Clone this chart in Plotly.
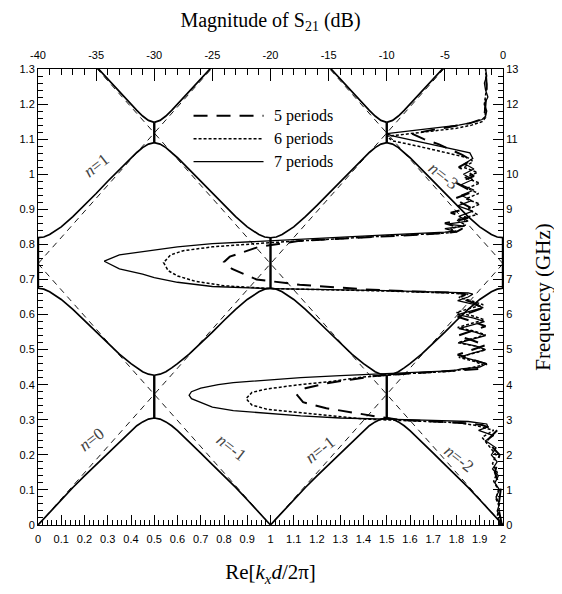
import numpy as np
import plotly.graph_objects as go

# ---------------- band-structure data (reduced half zone) -------------
band_k = [0, 0.025, 0.05, 0.1, 0.15, 0.2, 0.25, 0.3, 0.35, 0.4, 0.425, 0.45, 0.475, 0.5]
band1_f = [0, 0.018, 0.036, 0.072, 0.107, 0.140, 0.172, 0.205, 0.238, 0.269, 0.283, 0.294, 0.302, 0.305]
band2_f = [0.675, 0.6725, 0.665, 0.643, 0.615, 0.583, 0.550, 0.518, 0.487, 0.460, 0.448, 0.437, 0.430, 0.427]
band3_f = [0.819, 0.821, 0.828, 0.850, 0.879, 0.911, 0.945, 0.980, 1.014, 1.047, 1.062, 1.076, 1.086, 1.090]
band4_k = [0.25, 0.3, 0.35, 0.4, 0.425, 0.45, 0.475, 0.5]
band4_f = [1.3075, 1.271, 1.2345, 1.199, 1.182, 1.166, 1.1535, 1.148]

# band gaps (Re[k] constant inside the gap)
gap_x = [0, 0.5, 1, 1.5, 2, 0.5, 1.5]
gap_lo = [0.675, 0.305, 0.675, 0.305, 0.675, 1.090, 1.090]
gap_hi = [0.819, 0.427, 0.819, 0.427, 0.819, 1.148, 1.148]

# light lines  f = slope*|x - m|
light_slope = 0.745
light_m = [-1, 0, 1, 2, 3]

# ---------------- S21 data (frequency GHz, magnitude dB) ----------------
s21_f7 = [0.00, 0.20, 0.40, 0.60, 0.80, 1.00, 1.20, 1.40, 1.60, 1.80, 2.00, 2.20, 2.40, 2.55, 2.70, 2.80, 2.88,
          2.95, 2.98, 3.01, 3.05, 3.11, 3.18, 3.26, 3.36, 3.49, 3.60, 3.70, 3.80, 3.90, 4.00, 4.06, 4.13, 4.20,
          4.26, 4.31, 4.36, 4.40, 4.45, 4.50, 4.60, 4.70, 4.80, 4.90, 5.00, 5.10, 5.20, 5.30, 5.40, 5.50, 5.60,
          5.70, 5.80, 5.90, 6.00, 6.10, 6.20, 6.30, 6.40, 6.50, 6.58, 6.62, 6.64, 6.68, 6.71, 6.74, 6.80, 6.92,
          7.05, 7.15, 7.30, 7.52, 7.70, 7.80, 7.93, 8.02, 8.11, 8.19, 8.27, 8.35, 8.38, 8.45, 8.52, 8.58, 8.66,
          8.80, 8.95, 9.10, 9.25, 9.40, 9.55, 9.70, 9.85, 10.00, 10.15, 10.30, 10.45, 10.61, 10.74, 10.87, 11.00,
          11.10, 11.16, 11.24, 11.32, 11.40, 11.48, 11.56, 11.65, 11.80, 12.00, 12.20, 12.40, 12.60, 12.80, 13.00]
s21_db7 = [-0.3, -0.2, -0.5, -0.3, -0.6, -0.3, -0.7, -0.4, -0.9, -0.5, -1.0, -0.6, -1.5, -0.8, -2.1, -1.3, -1.4,
           -3.0, -6.0, -10.0, -14.0, -17.4, -20.5, -23.2, -25.0, -26.0, -26.8, -27.0, -26.8, -26.0, -24.5, -23.2,
           -20.5, -17.4, -14.0, -10.0, -6.0, -4.2, -3.6, -2.0, -1.4, -2.4, -3.6, -2.6, -1.5, -2.3, -3.7, -2.6,
           -1.5, -2.4, -3.8, -2.7, -1.6, -2.5, -3.9, -2.8, -1.7, -2.6, -3.9, -3.0, -2.6, -3.0, -5.0, -10.0, -15.0,
           -20.0, -25.0, -28.0, -30.0, -31.0, -33.0, -34.3, -33.0, -31.0, -28.0, -25.0, -20.0, -15.0, -10.0,
           -5.0, -4.2, -5.0, -3.3, -4.8, -3.0, -3.8, -2.6, -3.9, -2.7, -3.6, -2.5, -3.6, -2.6, -3.4, -2.5, -3.3,
           -2.6, -2.85, -4.6, -6.4, -8.2, -9.6, -10.0, -8.0, -5.8, -3.8, -2.6, -1.8, -1.5, -1.4, -1.6, -1.3,
           -1.5, -1.6, -1.4, -1.5]

s21_f6 = [0.00, 0.25, 0.50, 0.75, 1.00, 1.25, 1.50, 1.75, 2.00, 2.25, 2.50, 2.70, 2.85, 2.92, 2.97, 3.02, 3.11,
          3.20, 3.30, 3.42, 3.60, 3.78, 3.88, 4.00, 4.10, 4.22, 4.32, 4.38, 4.45, 4.56, 4.67, 4.78, 4.88, 4.99,
          5.10, 5.20, 5.31, 5.42, 5.53, 5.63, 5.74, 5.85, 5.96, 6.06, 6.17, 6.28, 6.38, 6.49, 6.58, 6.62, 6.67,
          6.70, 6.74, 6.82, 6.95, 7.10, 7.25, 7.48, 7.70, 7.82, 7.93, 8.05, 8.15, 8.24, 8.32, 8.36, 8.45, 8.55,
          8.70, 8.85, 9.00, 9.15, 9.30, 9.45, 9.60, 9.75, 9.90, 10.05, 10.20, 10.35, 10.45, 10.55, 10.70, 10.85,
          10.95, 11.08, 11.15, 11.23, 11.31, 11.40, 11.50, 11.62, 12.00, 12.50, 13.00]
s21_db6 = [-0.2, -0.5, -0.3, -0.6, -0.4, -0.8, -0.5, -0.9, -0.6, -1.2, -1.8, -0.8, -2.5, -4.0, -8.0, -12.0,
           -14.6, -17.5, -20.3, -21.6, -22.1, -21.6, -20.3, -17.5, -14.6, -12.0, -8.0, -4.5, -3.2, -1.7, -2.5,
           -3.8, -2.6, -1.5, -2.4, -3.9, -2.7, -1.5, -2.5, -3.9, -2.8, -1.6, -2.6, -4.0, -2.9, -1.7, -2.6, -3.8,
           -3.0, -5.0, -10.0, -15.0, -20.0, -24.0, -26.5, -28.0, -28.8, -29.2, -28.6, -27.5, -25.0, -20.0, -15.0,
           -10.0, -5.0, -4.0, -4.5, -3.2, -4.0, -2.2, -3.0, -2.0, -3.2, -2.1, -3.1, -2.0, -3.3, -2.2, -3.4, -2.6,
           -2.8, -4.0, -6.0, -8.0, -9.5, -10.0, -8.2, -6.0, -4.0, -2.7, -1.8, -1.5, -1.6, -1.4, -1.5]

s21_f5 = [0.00, 0.50, 1.00, 1.50, 2.00, 2.40, 2.70, 2.85, 2.90, 2.95, 3.00, 3.10, 3.20, 3.33, 3.50, 3.70, 3.90,
          4.05, 4.15, 4.25, 4.32, 4.38, 4.42, 4.45, 4.585, 4.72, 4.855, 4.99, 5.125, 5.26, 5.395, 5.53, 5.665,
          5.80, 5.935, 6.07, 6.205, 6.34, 6.475, 6.58, 6.62, 6.66, 6.72, 6.85, 7.00, 7.30, 7.50, 7.65, 7.93, 8.10,
          8.20, 8.30, 8.36, 8.45, 8.60, 8.75, 8.90, 9.05, 9.30, 9.50, 9.75, 9.95, 10.20, 10.40, 10.55, 10.70,
          10.85, 11.00, 11.15, 11.25, 11.35, 11.45, 11.55, 11.65, 12.00, 12.50, 13.00]
s21_db5 = [-0.1, -0.4, -0.2, -0.7, -0.3, -1.4, -0.5, -1.8, -3.0, -6.0, -9.0, -11.0, -12.8, -15.2, -17.2, -17.7,
           -17.0, -15.0, -13.0, -11.0, -8.0, -5.0, -3.5, -2.0, -1.4, -2.6, -3.9, -2.7, -1.5, -2.6, -3.9, -2.7,
           -1.5, -2.6, -3.9, -2.7, -1.6, -2.6, -3.8, -3.2, -4.0, -8.0, -12.0, -17.5, -21.2, -23.3, -24.0, -23.5,
           -21.0, -17.5, -12.0, -6.0, -4.0, -3.5, -5.0, -3.0, -4.5, -2.8, -4.2, -2.6, -4.0, -2.5, -3.8, -2.7,
           -3.5, -4.5, -5.5, -6.8, -7.8, -6.3, -4.4, -2.9, -2.0, -1.6, -1.5, -1.4, -1.5]

# ---------------- axis tick labels ----------------
bottom_ticks = [round(0.1 * i, 1) for i in range(21)]
bottom_labels = ["0" if v == 0 else ("%g" % v) for v in bottom_ticks]
left_ticks = [round(0.1 * i, 1) for i in range(14)]
left_labels = ["0" if v == 0 else ("%g" % v) for v in left_ticks]
top_ticks = [-40, -35, -30, -25, -20, -15, -10, -5, 0]
top_labels = ["-40", "-35", "-30", "-25", "-20", "-15", "-10", "-5", "0"]
right_ticks = list(range(14))
right_labels = [str(v) for v in right_ticks]

# mode labels
n_text = ["<i>n</i>=1", "<i>n</i>=0", "<i>n</i>=-1", "<i>n</i>=-1", "<i>n</i>=-2", "<i>n</i>=-3"]
n_x = [0.25, 0.23, 0.83, 1.215, 1.81, 1.74]
n_y = [1.025, 0.245, 0.22, 0.215, 0.19, 0.995]
n_ang = [-38, -38, 38, -38, 38, 38]

legend_names = ["5 periods", "6 periods", "7 periods"]

fig = go.Figure()

# light lines (dashed)
for m in light_m:
    xs = [0.0, 2.0]
    if 0 < m < 2:
        xs = [0.0, float(m), 2.0]
    ys = [light_slope * abs(x - m) for x in xs]
    fig.add_trace(go.Scatter(x=xs, y=ys, mode="lines", showlegend=False, hoverinfo="skip",
                             line=dict(color="black", width=0.9, dash="6px,5px")))

# bands in repeated zone scheme
k = np.array(band_k)
for bf in (band1_f, band2_f, band3_f):
    f = np.array(bf)
    xs = np.concatenate([k, 1 - k[::-1], 1 + k, 2 - k[::-1]])
    ys = np.concatenate([f, f[::-1], f, f[::-1]])
    fig.add_trace(go.Scatter(x=xs, y=ys, mode="lines", showlegend=False, hoverinfo="skip",
                             line=dict(color="black", width=1.7)))
k4 = np.array(band4_k)
f4 = np.array(band4_f)
xs4, ys4 = [], []
for seg_x, seg_y in ((k4, f4), (1 - k4, f4), (1 + k4, f4), (2 - k4, f4)):
    xs4 += list(seg_x) + [None]
    ys4 += list(seg_y) + [None]
fig.add_trace(go.Scatter(x=xs4, y=ys4, mode="lines", showlegend=False, hoverinfo="skip",
                         line=dict(color="black", width=1.7)))

# gap lines
gx, gy = [], []
for x0, lo, hi in zip(gap_x, gap_lo, gap_hi):
    gx += [x0, x0, None]
    gy += [lo, hi, None]
fig.add_trace(go.Scatter(x=gx, y=gy, mode="lines", showlegend=False, hoverinfo="skip",
                         line=dict(color="black", width=2.4)))

# S21 curves on top/right axes
fig.add_trace(go.Scatter(x=s21_db5, y=s21_f5, xaxis="x2", yaxis="y2", mode="lines", name=legend_names[0],
                         showlegend=False, line=dict(color="black", width=2.0, dash="14px,9px")))
fig.add_trace(go.Scatter(x=s21_db6, y=s21_f6, xaxis="x2", yaxis="y2", mode="lines", name=legend_names[1],
                         showlegend=False, line=dict(color="black", width=1.5, dash="3px,2px")))
fig.add_trace(go.Scatter(x=s21_db7, y=s21_f7, xaxis="x2", yaxis="y2", mode="lines", name=legend_names[2],
                         showlegend=False, line=dict(color="black", width=1.3)))

# manual legend
leg_y = [1.167, 1.101, 1.036]
leg_dash = ["14px,9px", "3px,2px", "solid"]
leg_w = [2.0, 1.5, 1.3]
for yv, d, w, nm in zip(leg_y, leg_dash, leg_w, legend_names):
    fig.add_shape(type="line", xref="x", yref="y", x0=0.669, x1=0.970, y0=yv, y1=yv,
                  line=dict(color="black", width=w, dash=d))
    fig.add_annotation(x=1.005, y=yv, xref="x", yref="y", text=nm, showarrow=False, xanchor="left",
                       font=dict(family="Liberation Serif", size=16, color="black"))

for t, x, y, a in zip(n_text, n_x, n_y, n_ang):
    fig.add_annotation(x=x, y=y, xref="x", yref="y", text=t, showarrow=False, textangle=a,
                       font=dict(family="Liberation Serif", size=17, color="#444"))

tickfont = dict(family="Liberation Sans", size=11, color="black")
titlefont = dict(family="Liberation Serif", size=21, color="black")

# page body has an 8px default margin: figure is 554x586 so the plot lands where the reference has it
fig.update_layout(
    width=554, height=586,
    margin=dict(l=29, r=59, t=58, b=69),
    paper_bgcolor="white", plot_bgcolor="white",
    showlegend=False,
    xaxis=dict(range=[0, 2], tickmode="array", tickvals=bottom_ticks, ticktext=bottom_labels,
               ticks="inside", ticklen=10, tickcolor="black", tickfont=tickfont, ticklabelstandoff=4,
               minor=dict(dtick=0.02, tick0=0, ticks="inside", ticklen=5, tickcolor="black", showgrid=False),
               showgrid=False, zeroline=False, showline=True, linecolor="black", linewidth=1,
               title=dict(text="Re[<i>k<sub>x</sub>d</i>/2π]", font=titlefont, standoff=20)),
    yaxis=dict(range=[0, 1.3], tickmode="array", tickvals=left_ticks, ticktext=left_labels,
               ticks="inside", ticklen=10, tickcolor="black", tickfont=tickfont,
               minor=dict(dtick=0.02, tick0=0, ticks="inside", ticklen=5, tickcolor="black", showgrid=False),
               showgrid=False, zeroline=False, showline=True, linecolor="black", linewidth=1),
    xaxis2=dict(range=[-40, 0], overlaying="x", side="top", anchor="y", tickmode="array",
                tickvals=top_ticks, ticktext=top_labels, ticks="inside", ticklen=12, tickcolor="black",
                tickfont=tickfont, ticklabelstandoff=5,
                minor=dict(dtick=1, tick0=0, ticks="inside", ticklen=6, tickcolor="black", showgrid=False),
                showgrid=False, zeroline=False, showline=True, linecolor="black", linewidth=1,
                title=dict(text="Magnitude of S<sub>21</sub> (dB)",
                           font=dict(family="Liberation Serif", size=20, color="black"), standoff=15)),
    yaxis2=dict(range=[0, 13], overlaying="y", side="right", anchor="x", tickmode="array",
                tickvals=right_ticks, ticktext=right_labels, ticks="inside", ticklen=10, tickcolor="black",
                tickfont=tickfont,
                minor=dict(dtick=0.2, tick0=0, ticks="inside", ticklen=5, tickcolor="black", showgrid=False),
                showgrid=False, zeroline=False, showline=True, linecolor="black", linewidth=1,
                title=dict(text="Frequency (GHz)", font=titlefont, standoff=17)),
)

fig.write_html("out.html")
